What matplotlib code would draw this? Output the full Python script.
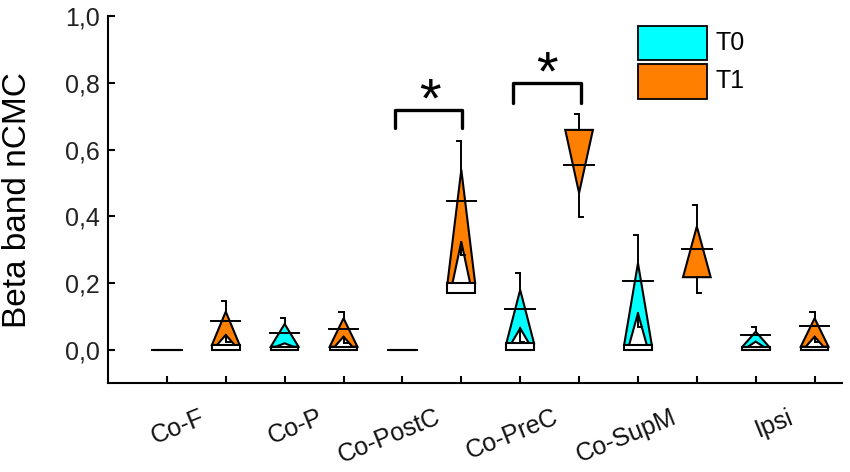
import numpy as np
import matplotlib
matplotlib.use("Agg")
import matplotlib.pyplot as plt
from matplotlib.patches import Polygon, Rectangle
from matplotlib.ticker import FuncFormatter

plt.rcParams["font.family"] = ["Liberation Sans", "DejaVu Sans"]

# groups and series
groups = ["Co-F", "Co-P", "Co-PostC", "Co-PreC", "Co-SupM", "Ipsi"]
series = ["T0", "T1"]
series_colors = ["#00FFFF", "#FF8000"]

# one entry per box, ordered T0, T1 inside each group
box_wide = [0, 0.015, 0.01, 0.01, 0, 0.20, 0.02, 0.659, 0.015, 0.218, 0.008, 0.01]   # full-width edge
box_tip = [0, 0.115, 0.078, 0.095, 0, 0.54, 0.18, 0.47, 0.26, 0.37, 0.055, 0.095]   # pointed end
box_band = [0, 0, 0, 0, 0, 0.17, 0, 0.659, 0, 0.218, 0, 0]                           # lower edge of white band
box_vtip = [np.nan, 0.045, 0.02, 0.04, np.nan, 0.324, 0.065, np.nan, 0.11, np.nan, 0.025, 0.04]
mean_line = [0, 0.087, 0.052, 0.063, 0, 0.447, 0.123, 0.554, 0.207, 0.302, 0.045, 0.073]
whisk_hi = [0, 0.148, 0.095, 0.115, 0, 0.627, 0.23, 0.708, 0.344, 0.434, 0.07, 0.115]
whisk_lo = [0, 0.025, 0.02, 0.02, 0, 0.284, 0.025, 0.399, 0.07, 0.17, 0.025, 0.025]

# significance brackets: left x, right x, leg bottom, top
brackets = [(4.87, 6.02, 0.664, 0.719), (6.88, 8.03, 0.74, 0.80)]
stars_x = [5.47, 7.45]
stars_y = [0.742, 0.823]

yticks = [0.0, 0.2, 0.4, 0.6, 0.8, 1.0]

fig = plt.figure(figsize=(8.5, 4.72), dpi=100)
ax = fig.add_axes([108 / 850, 1 - 383.4 / 472, (841.7 - 108) / 850, (383.4 - 16) / 472])

half_w = 0.235
inner_w = 0.15
mean_w = 0.25
cap_w = 0.07

positions = np.arange(1, len(box_tip) + 1)
for i, x in enumerate(positions):
    color = series_colors[i % 2]
    wide, tip, vtip = box_wide[i], box_tip[i], box_vtip[i]
    pts = [(x - half_w, wide), (x, tip), (x + half_w, wide)]
    if not np.isnan(vtip):
        pts += [(x + inner_w, wide), (x, vtip), (x - inner_w, wide)]
    ax.add_patch(Polygon(pts, closed=True, facecolor=color, edgecolor="black",
                         linewidth=1.5, joinstyle="miter", zorder=3))
    if wide - box_band[i] > 0:
        ax.add_patch(Rectangle((x - half_w, box_band[i]), 2 * half_w, wide - box_band[i],
                               facecolor="white", edgecolor="black", linewidth=1.5, zorder=3))
    # mean line
    ax.plot([x - mean_w, x + mean_w], [mean_line[i]] * 2, color="black", lw=1.4, zorder=4)
    # upper whisker
    top = max(tip, wide)
    if whisk_hi[i] > top:
        ax.plot([x, x], [top, whisk_hi[i]], color="black", lw=1.4, zorder=4)
        ax.plot([x - cap_w, x], [whisk_hi[i]] * 2, color="black", lw=1.4, zorder=4)
    # lower whisker
    low = vtip if not np.isnan(vtip) else min(tip, box_band[i])
    if whisk_lo[i] < low:
        ax.plot([x, x], [low, whisk_lo[i]], color="black", lw=1.4, zorder=4)
        ax.plot([x, x + cap_w], [whisk_lo[i]] * 2, color="black", lw=1.4, zorder=4)

for (x1, x2, yb, yt), sx, sy in zip(brackets, stars_x, stars_y):
    ax.plot([x1, x1, x2, x2], [yb, yt, yt, yb], color="black", lw=2.4,
            solid_joinstyle="round", solid_capstyle="round", zorder=4)
    ax.text(sx, sy, "*", fontsize=40, ha="center", va="center", zorder=5)

ax.set_xlim(0, 12.46)
ax.set_ylim(-0.1, 1.0)
ax.spines["top"].set_visible(False)
ax.spines["right"].set_visible(False)
ax.spines["left"].set_linewidth(1.5)
ax.spines["bottom"].set_linewidth(1.5)

ax.set_xticks(positions)
ax.set_xticklabels([])
ax.set_yticks(yticks)
ax.yaxis.set_major_formatter(FuncFormatter(lambda v, p: f"{v:.1f}".replace(".", ",")))
ax.tick_params(axis="both", direction="in", length=5, width=1.5, colors="black")
ax.tick_params(axis="y", labelsize=18, pad=6, labelcolor="#222222")

for g, name in enumerate(groups):
    ax.text(2 * g + 1.55, -0.165, name, fontsize=18, rotation=22, rotation_mode="anchor",
            ha="right", va="top", clip_on=False, color="#111111")

ax.set_ylabel("Beta band nCMC", fontsize=24)
ax.yaxis.set_label_coords(-0.102, 0.5)

# legend drawn in figure pixels
for k, (lab, col) in enumerate(zip(series, series_colors)):
    y0 = 1 - (60 + 38.5 * k) / 472
    fig.patches.append(Rectangle((638 / 850, y0), 69 / 850, 34 / 472, facecolor=col,
                                 edgecolor="black", linewidth=1.3, transform=fig.transFigure))
    fig.text(716 / 850, y0 + 17 / 472, lab, fontsize=18, va="center", ha="left")

fig.savefig("out.png", dpi=100)
